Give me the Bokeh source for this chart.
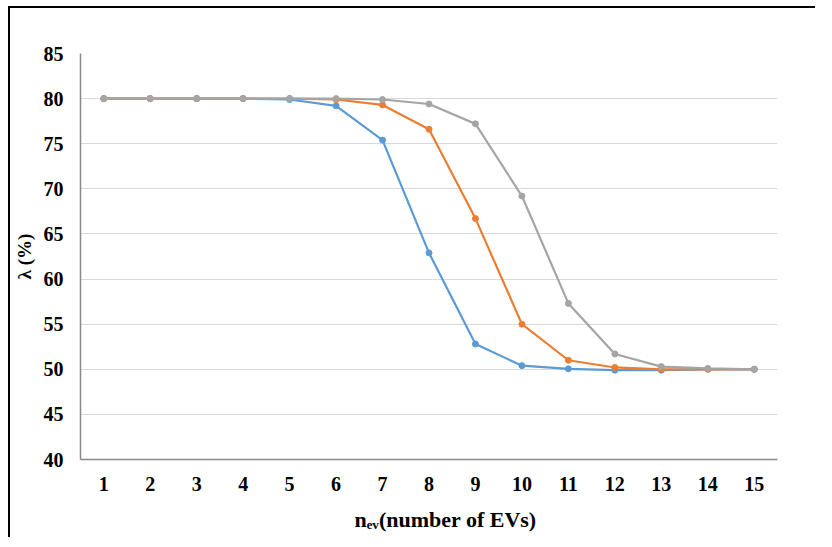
from bokeh.plotting import figure
from bokeh.models import Range1d, FixedTicker
from bokeh.embed import file_html
from bokeh.resources import INLINE

n_ev = list(range(1, 16))
series_blue = [80, 80, 80, 80, 79.9, 79.2, 75.4, 62.9, 52.8, 50.4, 50.05, 49.9, 49.9, 50.0, 50.0]
series_orange = [80, 80, 80, 80, 80, 79.9, 79.3, 76.6, 66.7, 55.0, 51.0, 50.2, 50.0, 50.0, 50.0]
series_gray = [80, 80, 80, 80, 80, 80, 79.9, 79.4, 77.2, 69.2, 57.3, 51.7, 50.3, 50.1, 50.0]
y_ticks = [40, 45, 50, 55, 60, 65, 70, 75, 80, 85]

colors = ["#5B9BD5", "#ED7D31", "#A5A5A5"]
FONT = "'Liberation Serif'"

p = figure(width=807, height=531, output_backend="svg", toolbar_location=None,
           x_range=Range1d(0.5, 15.5), y_range=Range1d(40, 85),
           min_border_left=69, min_border_right=40, min_border_top=45, min_border_bottom=80,
           styles={"border-top": "2px solid black", "border-left": "2px solid black",
                   "margin-left": "8px", "margin-top": "6px"})
p.outline_line_color = None
p.background_fill_color = "white"
p.border_fill_color = "white"

p.xgrid.grid_line_color = None
p.ygrid.grid_line_color = "#d9d9d9"
p.ygrid.grid_line_width = 1
p.yaxis.ticker = FixedTicker(ticks=y_ticks)
p.xaxis.ticker = FixedTicker(ticks=n_ev)

for ax in (p.xaxis, p.yaxis):
    ax.axis_line_color = "#898989"
    ax.axis_line_width = 1.5
    ax.major_tick_line_color = None
    ax.minor_tick_line_color = None
    ax.major_tick_out = 0
    ax.major_tick_in = 0
    ax.minor_tick_out = 0
    ax.major_label_text_font = FONT
    ax.major_label_text_font_style = "bold"
    ax.major_label_text_font_size = "20px"
    ax.major_label_text_color = "black"
    ax.axis_label_text_font = FONT
    ax.axis_label_text_font_style = "bold"
    ax.axis_label_text_color = "black"

p.yaxis.major_label_standoff = 17
p.xaxis.major_label_standoff = 17
p.yaxis.axis_label = "λ (%)"
p.yaxis.axis_label_text_font_size = "19px"
p.yaxis.axis_label_standoff = 6

p.xaxis.axis_label = "\u2003\u2002nₑᵥ(number of EVs)"
p.xaxis.axis_label_text_font_size = "22px"
p.xaxis.axis_label_standoff = 13

for ys, c in zip([series_blue, series_orange, series_gray], colors):
    p.line(n_ev, ys, line_color=c, line_width=2.2)
    p.scatter(n_ev, ys, size=6, fill_color=c, line_color=c)

open("out.html", "w").write(file_html(p, INLINE))
